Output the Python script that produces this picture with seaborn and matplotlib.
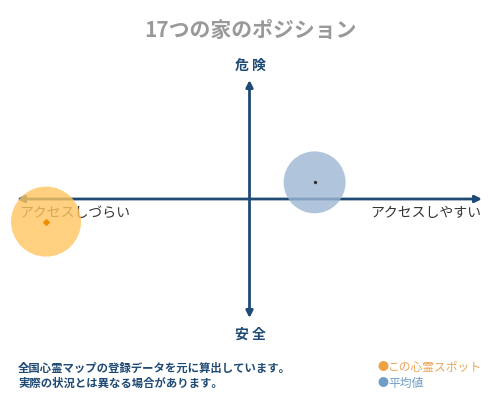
import pandas as pd
import matplotlib.pyplot as plt
import seaborn as sns

# Data
names = ['この心霊スポット', '平均値']
access = [-0.875, 0.28]      # -1: アクセスしづらい, +1: アクセスしやすい
danger = [-0.19, 0.14]       # -1: 安全, +1: 危険
bubble = [2540, 1990]
colors = ['#FFC55F', '#9DB6D3']

df = pd.DataFrame({'name': names, 'access': access, 'danger': danger, 'size': bubble})

sns.set_theme(style='white')
plt.rcParams['font.family'] = ['Noto Sans CJK JP', 'DejaVu Sans']

fig = plt.figure(figsize=(5, 4), dpi=100)
ax = fig.add_axes([17 / 500, 1 - 318 / 400, 465 / 500, 238 / 400])
ax.set_xlim(-1, 1)
ax.set_ylim(-1, 1)
ax.axis('off')

navy = '#1F4A74'
# axes arrows
ax.annotate('', xy=(-1, 0), xytext=(1, 0),
            arrowprops=dict(arrowstyle='<|-|>', color=navy, lw=2, mutation_scale=10, shrinkA=0, shrinkB=0))
ax.annotate('', xy=(0, 1), xytext=(0, -1),
            arrowprops=dict(arrowstyle='<|-|>', color=navy, lw=2, mutation_scale=10, shrinkA=0, shrinkB=0))

# axis labels
ax.text(-0.99, -0.06, 'アクセスしづらい', ha='left', va='top', fontsize=10, color='#333333', zorder=1)
ax.text(0.995, -0.06, 'アクセスしやすい', ha='right', va='top', fontsize=10, color='#333333')
fig.text(0.5, 1 - 66 / 400, '危 険', ha='center', va='center', fontsize=10, color=navy, fontweight='bold')
fig.text(0.5, 1 - 335 / 400, '安 全', ha='center', va='center', fontsize=10, color=navy, fontweight='bold')

# bubbles
sns.scatterplot(data=df, x='access', y='danger', hue='name', size='name',
                sizes=dict(zip(names, bubble)), palette=dict(zip(names, colors)),
                alpha=0.8, edgecolor='none', legend=False, ax=ax, zorder=3, clip_on=False)
ax.scatter([access[0]], [danger[0]], marker='D', s=8, color='#F08C00', zorder=4, clip_on=False)
ax.scatter([access[1]], [danger[1]], marker='o', s=2, color='#333333', zorder=4)

# title
fig.text(0.5, 1 - 30 / 400, '17つの家のポジション', ha='center', va='center', fontsize=15,
         color='#999999', fontweight='bold')

# footnotes
fig.text(18 / 500, 1 - 368 / 400, '全国心霊マップの登録データを元に算出しています。',
         ha='left', va='center', fontsize=8.2, color=navy, fontweight='bold')
fig.text(18 / 500, 1 - 383 / 400, '実際の状況とは異なる場合があります。',
         ha='left', va='center', fontsize=8.2, color=navy, fontweight='bold')

# legend
fig.text(377 / 500, 1 - 367 / 400, '●', ha='left', va='center', fontsize=8, color='#F0A040')
fig.text(388 / 500, 1 - 367 / 400, 'この心霊スポット', ha='left', va='center', fontsize=8.5, color='#E8A55A')
fig.text(377 / 500, 1 - 383 / 400, '●', ha='left', va='center', fontsize=8, color='#6F9CC8')
fig.text(388 / 500, 1 - 383 / 400, '平均値', ha='left', va='center', fontsize=8.5, color='#6F9CC8')

fig.savefig('out.png', dpi=100)
